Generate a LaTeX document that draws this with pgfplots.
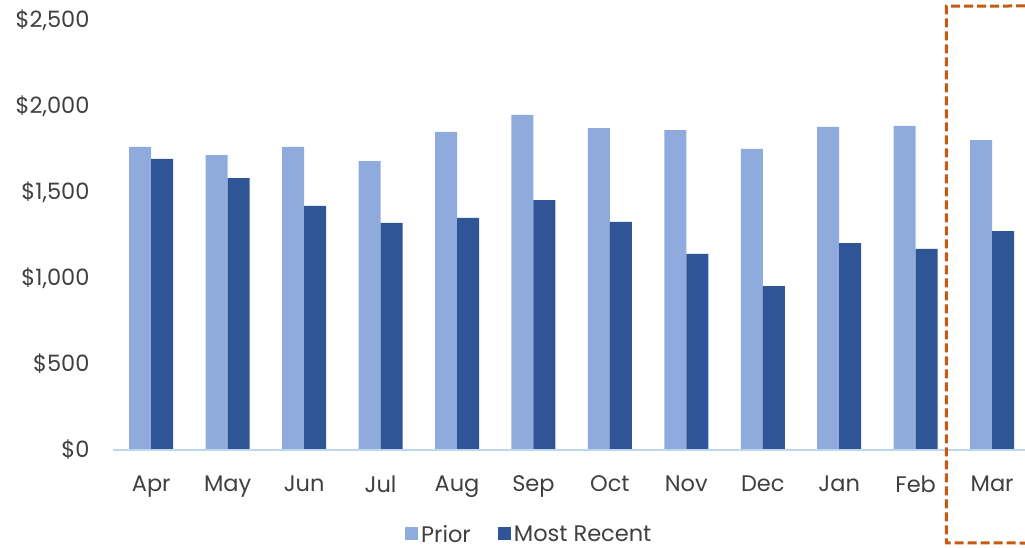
\documentclass[border=0pt]{standalone}
\usepackage{fontspec}
\setmainfont{Poppins}
\usepackage{pgfplots}
\pgfplotsset{compat=1.18}
\definecolor{prior}{HTML}{8FAADC}
\definecolor{recent}{HTML}{2F5597}
\definecolor{txt}{HTML}{404040}
\definecolor{axl}{HTML}{BDD7EE}
\definecolor{org}{HTML}{C55A11}
\begin{document}
\begin{tikzpicture}
\begin{axis}[
  scale only axis,
  width=912bp, height=430bp,
  xmin=-0.5, xmax=11.43,
  ymin=0, ymax=2500,
  ybar=0pt, bar width=22bp,
  axis line style={draw=none},
  axis x line*=bottom,
  axis y line*=left,
  xtick=data,
  xticklabels={Apr,May,Jun,Jul,Aug,Sep,Oct,Nov,Dec,Jan,Feb,Mar},
  ytick={0,500,1000,1500,2000,2500},
  yticklabels={{\$0},{\$500},{\$1,000},{\$1,500},{\$2,000},{\$2,500}},
  major tick length=0pt,
  tick label style={font=\fontsize{22.5bp}{26bp}\selectfont, text=txt},
  xticklabel style={yshift=-22bp},
  yticklabel style={xshift=-20bp},
  clip=false,
  legend style={draw=none, fill=none, inner sep=0pt, at={(rel axis cs:0.457,-0.196)}, anchor=center,
    legend columns=2, font=\fontsize{22.5bp}{26bp}\selectfont, text=txt,
    nodes={inner xsep=3bp, inner ysep=1bp},
    /tikz/every even column/.append style={column sep=24bp}},
  legend image code/.code={\fill[#1] (0bp,-6bp) rectangle (13bp,7bp);},
]
\addplot[fill=prior, draw=none] coordinates {
(0,1762) (1,1715) (2,1762) (3,1680) (4,1849) (5,1948) (6,1872) (7,1860) (8,1750) (9,1878) (10,1884) (11,1802)};
\addplot[fill=recent, draw=none] coordinates {
(0,1692) (1,1581) (2,1419) (3,1320) (4,1349) (5,1453) (6,1326) (7,1140) (8,953) (9,1203) (10,1169) (11,1273)};
\legend{Prior,Most Recent}
\draw[axl, line width=2bp] (rel axis cs:0,0) -- (rel axis cs:1,0);
\draw[org, line width=3bp, dash pattern=on 9bp off 4bp]
  (rel axis cs:1,1.0326) -- (axis cs:10.40,2581) -- (axis cs:10.40,-540) -- (rel axis cs:1,-0.2163);
\coordinate (bl) at (rel axis cs:0,0);
\coordinate (tr) at (rel axis cs:1,1);
\end{axis}
\pgfresetboundingbox
\path ([shift={(-113bp,-98bp)}]bl) rectangle ([shift={(0bp,20bp)}]tr);
\end{tikzpicture}
\end{document}
